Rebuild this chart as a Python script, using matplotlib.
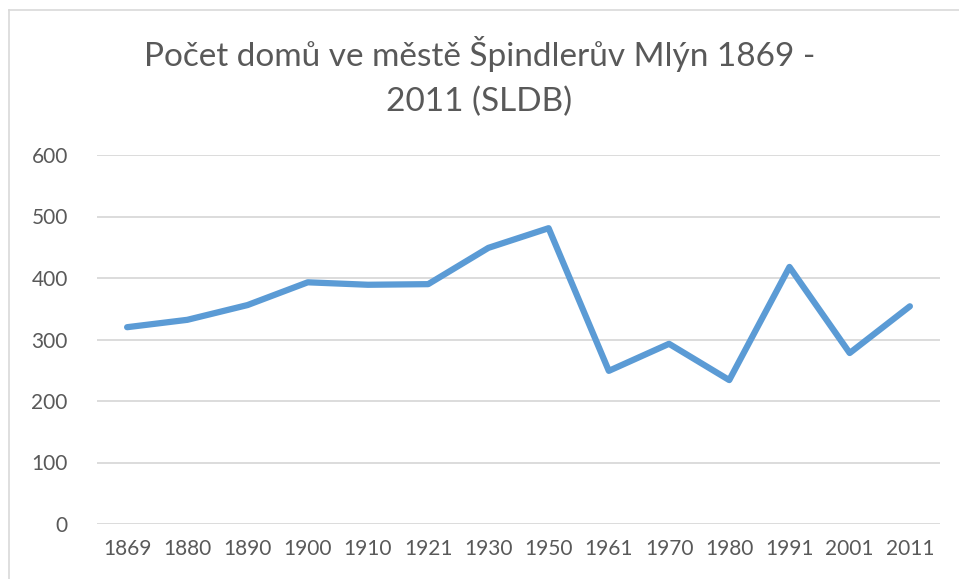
import matplotlib
matplotlib.use("Agg")
import matplotlib.pyplot as plt
from matplotlib.lines import Line2D

# Data
years = ["1869", "1880", "1890", "1900", "1910", "1921", "1930",
         "1950", "1961", "1970", "1980", "1991", "2001", "2011"]
houses = [320, 332, 356, 393, 389, 390, 449, 481, 249, 293, 234, 418, 278, 354]
yticks = [0, 100, 200, 300, 400, 500, 600]
title = "Počet domů ve městě Špindlerův Mlýn 1869 -\n2011 (SLDB)"

plt.rcParams["font.family"] = ["Lato", "DejaVu Sans"]
text_color = "#595959"
grid_color = "#d9d9d9"
line_color = "#5b9bd5"

fig = plt.figure(figsize=(9.59, 5.79), dpi=100)
ax = fig.add_axes([97 / 959, 1 - 524 / 579, 843 / 959, 369 / 579])

x = range(len(years))
ax.plot(x, houses, color=line_color, linewidth=4.5, solid_joinstyle="round",
        solid_capstyle="round")

ax.set_xlim(-0.5, len(years) - 0.5)
ax.set_ylim(0, 600)
ax.set_yticks(yticks)
ax.set_xticks(list(x))
ax.set_xticklabels(years)
ax.tick_params(axis="both", length=0, labelsize=15, colors=text_color)
ax.tick_params(axis="y", pad=21)
ax.tick_params(axis="x", pad=11)
ax.grid(axis="y", color=grid_color, linewidth=1.3)
ax.set_axisbelow(True)
for s in ax.spines.values():
    s.set_visible(False)

fig.text(0.5, 1 - 77 / 579, title, ha="center", va="center", fontsize=24,
         color=text_color, linespacing=1.6)

# outer chart border (top and left visible in the crop)
fig.add_artist(Line2D([9 / 959, 9 / 959], [0, 1 - 10 / 579], transform=fig.transFigure,
                      color=grid_color, linewidth=1.2))
fig.add_artist(Line2D([9 / 959, 1], [1 - 10 / 579, 1 - 10 / 579], transform=fig.transFigure,
                      color=grid_color, linewidth=1.2))

fig.savefig("out.png", dpi=100, facecolor="white")
